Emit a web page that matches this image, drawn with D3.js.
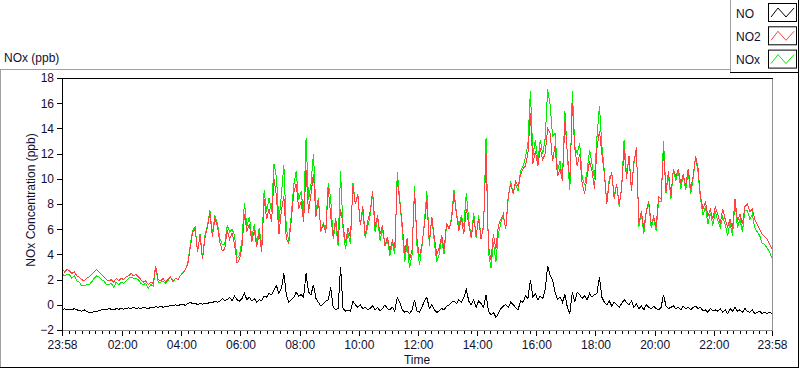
<!DOCTYPE html>
<html>
<head>
<meta charset="utf-8">
<script src="https://cdn.jsdelivr.net/npm/d3@7"></script>
<style>
  body { margin: 0; background: #fff; }
  svg { display: block; font-family: "Liberation Sans", Arial, sans-serif; }
  .lbl { fill: #101030; font-size: 12px; }
</style>
</head>
<body>
<svg id="chart" width="800" height="369"></svg>
<script>
// 5-minute readings starting 23:58
const seriesNames = ['NO', 'NO2', 'NOx'];
const seriesColors = ['#000000', '#ff4040', '#00ee00'];
const xTickLabels = ['23:58', '02:00', '04:00', '06:00', '08:00', '10:00', '12:00', '14:00', '16:00', '18:00', '20:00', '22:00', '23:58'];
const yTicks = [-2, 0, 2, 4, 6, 8, 10, 12, 14, 16, 18];

const no2 = [
  2.9, 2.6, 2.8, 2.7, 2.5, 2.6, 2.3, 2.2, 2.0, 1.9, 2.1, 2.2, 2.4, 2.6, 2.8, 2.6, 2.4, 2.2, 2.0, 1.9, 2.0, 1.8, 2.1, 1.9,
  2.1, 2.0, 2.2, 2.3, 2.5, 2.3, 2.4, 2.2, 2.0, 1.8, 1.9, 1.6, 1.8, 1.7, 3.1, 2.0, 1.9, 2.1, 1.8, 2.0, 2.2, 1.9, 2.1, 2.0,
  2.3, 2.5, 2.8, 3.2, 4.5, 5.8, 6.0, 4.2, 5.5, 3.6, 5.3, 6.2, 7.3, 5.4, 6.8, 6.3, 5.0, 4.3, 4.4, 5.9, 5.2, 5.7, 4.8, 3.3,
  3.6, 4.6, 7.2, 5.8, 6.4, 5.0, 5.9, 4.6, 5.7, 4.2, 8.4, 6.8, 7.6, 6.6, 10.0, 8.6, 5.6, 7.5, 8.6, 5.2, 4.9, 6.7, 8.9, 9.6,
  7.6, 8.2, 6.6, 10.7, 7.3, 8.8, 10.4, 7.0, 8.3, 5.9, 6.4, 5.7, 9.3, 7.0, 5.4, 6.9, 5.0, 7.6, 6.4, 4.9, 6.1, 5.3, 9.4, 8.0,
  8.8, 6.3, 7.8, 5.5, 6.6, 7.4, 9.0, 6.2, 7.1, 5.6, 6.3, 4.7, 5.4, 4.3, 5.1, 4.5, 9.9, 8.2, 6.4, 4.0, 5.3, 3.6, 4.4, 9.0, 5.2, 3.8,
  4.8, 6.3, 8.3, 5.0, 7.0, 5.4, 4.0, 4.5, 5.5, 4.4, 6.5, 6.0, 6.7, 8.8, 7.2, 5.9, 6.9, 5.6, 7.6, 6.4, 5.3, 6.9, 5.5, 6.8, 5.2, 6.3,
  12.0, 4.6, 3.6, 5.6, 4.4, 6.3, 6.8, 7.2, 6.0, 8.6, 9.6, 8.8, 9.8, 9.4, 10.3, 10.8, 11.0, 12.0, 15.2, 11.2, 12.2, 11.0, 12.4, 11.5,
  12.0, 14.0, 13.6, 11.4, 12.6, 10.2, 10.8, 9.8, 14.6, 12.0, 9.8, 16.0, 12.4, 11.0, 12.0, 9.6, 8.8, 10.2, 11.4, 10.6, 9.2, 12.4, 13.8,
  12.0, 10.4, 8.0, 9.8, 10.5, 8.4, 9.6, 8.0, 9.2, 12.4, 10.0, 11.8, 9.0, 11.4, 12.4, 6.5, 7.4, 6.0, 7.4, 8.2, 6.4, 7.0, 6.2, 8.6, 8.4,
  12.2, 9.0, 10.6, 8.6, 10.8, 10.2, 10.8, 9.6, 10.4, 9.4, 10.8, 9.2, 10.2, 11.8, 10.8, 8.6, 7.6, 8.2, 7.0, 7.6, 6.8, 7.8, 7.2, 6.4, 7.6,
  6.8, 6.2, 6.8, 6.0, 8.4, 6.6, 7.2, 6.4, 7.8, 8.0, 7.4, 7.6, 6.8, 6.4, 6.0, 5.6, 5.4, 5.2, 4.8, 4.4
];

const no = [
  -0.4, -0.3, -0.4, -0.35, -0.4, -0.3, -0.4, -0.45, -0.5, -0.4, -0.55, -0.6, -0.65, -0.5, -0.55, -0.45, -0.4, -0.35, -0.4, -0.3, -0.35, -0.4, -0.3, -0.35,
  -0.3, -0.35, -0.3, -0.25, -0.3, -0.2, -0.3, -0.25, -0.3, -0.2, -0.25, -0.3, -0.2, -0.25, -0.15, -0.2, -0.1, -0.2, -0.1, -0.15, -0.05, -0.1, 0, -0.05,
  0.0, 0.05, -0.05, 0.1, 0.2, 0.1, 0.15, 0.0, 0.1, 0.05, 0.15, 0.1, 0.2, 0.15, 0.3, 0.2, 0.3, 0.5, 0.35, 0.4, 0.6, 0.3, 0.7, 0.4,
  0.3, 0.5, 0.9, 0.4, 0.6, 0.3, 0.5, 0.2, 0.4, 0.3, 0.7, 0.6, 0.9, 0.8, 1.2, 1.5, 0.9, 1.3, 2.5, 0.8, 0.2, 0.4, 0.6, 1.0,
  0.7, 0.8, 0.6, 2.5, 1.0, 0.8, 1.6, 0.5, 0.2, -0.1, 0.1, 0.3, 0.4, 1.4, -0.2, -0.4, -0.3, 3.0, -0.3, -0.5, -0.4, -0.5, 0.3, 0.0,
  -0.2, 0.0, -0.3, -0.2, -0.4, -0.3, -0.1, -0.4, -0.2, -0.5, -0.3, 0.0, -0.3, -0.4, -0.2, -0.5, 0.6, 0.2, -0.4, -0.6, -0.5, -0.7, -0.4, 0.4, -0.5, -0.6,
  -0.2, 0.3, 0.6, -0.3, 0.0, -0.4, -0.6, -0.5, -0.3, -0.4, -0.1, 0.0, 0.2, 0.3, 0.1, 0.4, 0.2, 0.6, 1.2, 0.3, 0.0, 0.4, -0.2, 0.3, 0.1, -0.2,
  0.8, -0.5, -0.8, -0.6, -1.0, -0.7, -0.3, -0.1, 0.0, -0.2, 0.2, 0.0, -0.2, -0.4, 0.3, 0.2, 0.7, 0.5, 2.0, 0.6, 0.9, 0.4, 0.7, 0.5,
  1.2, 3.1, 2.3, 2.0, 1.0, 0.4, 0.6, 0.2, 0.8, -0.2, -0.7, 1.0, 0.2, 1.0, 0.8, 0.5, 0.7, 0.4, 0.9, 0.6, 0.8, 0.9, 2.2,
  0.6, 0.2, 0.0, 0.3, -0.1, 0.2, 0.0, -0.2, 0.1, 0.4, 0.2, 0.0, 0.3, -0.2, 0.1, -0.3, -0.1, -0.4, 0.0, -0.2, -0.3, -0.1, -0.3, -0.4, -0.2,
  0.8, -0.1, -0.3, -0.2, -0.1, -0.3, -0.2, -0.4, -0.1, -0.3, -0.2, -0.4, -0.2, -0.1, -0.3, -0.2, -0.5, -0.4, -0.6, -0.3, -0.5, -0.4, -0.5, -0.3, -0.6,
  -0.4, -0.7, -0.3, -0.5, -0.2, -0.5, -0.4, -0.6, -0.3, -0.5, -0.6, -0.4, -0.7, -0.6, -0.5, -0.7, -0.6, -0.7, -0.6, -0.7
];

const nox = [
  2.5, 2.3, 2.4, 2.4, 2.1, 2.3, 1.9, 1.8, 1.5, 1.5, 1.6, 1.6, 1.8, 2.1, 2.3, 2.2, 2.0, 1.9, 1.6, 1.6, 1.7, 1.4, 1.8, 1.6,
  1.8, 1.7, 1.9, 2.1, 2.2, 2.1, 2.1, 2.0, 1.7, 1.6, 1.7, 1.3, 1.6, 1.5, 3.0, 1.8, 1.8, 1.9, 1.7, 1.9, 2.2, 1.8, 2.1, 2.0,
  2.3, 2.6, 2.8, 3.3, 4.7, 5.9, 6.2, 4.2, 5.6, 3.7, 5.5, 6.3, 7.5, 5.6, 7.1, 6.5, 5.3, 4.8, 4.8, 6.3, 5.8, 6.0, 5.5, 3.7,
  3.9, 5.1, 8.1, 6.2, 7.0, 5.3, 6.4, 4.8, 6.1, 4.5, 9.1, 7.4, 8.5, 7.4, 11.2, 10.1, 6.5, 8.8, 11.1, 6.0, 5.1, 7.1, 9.5, 10.6,
  8.3, 9.0, 7.2, 13.2, 8.3, 9.6, 12.0, 7.5, 8.5, 5.8, 6.5, 6.0, 9.7, 8.4, 5.2, 6.5, 4.7, 10.6, 6.1, 4.4, 5.7, 4.8, 9.7, 8.0,
  8.6, 6.3, 7.5, 5.3, 6.2, 7.1, 8.9, 5.8, 6.9, 5.1, 6.0, 4.7, 5.1, 3.9, 4.9, 4.0, 10.5, 8.4, 6.0, 3.4, 4.8, 2.9, 4.0, 9.4, 4.7, 3.2,
  4.6, 6.6, 9.0, 4.7, 7.0, 5.0, 3.4, 4.0, 5.2, 4.0, 6.4, 6.0, 6.9, 9.1, 7.3, 6.3, 7.1, 6.2, 8.9, 6.7, 5.3, 7.3, 5.3, 7.1, 5.3, 6.1,
  13.2, 4.1, 2.9, 5.0, 3.4, 5.6, 6.5, 7.1, 6.0, 8.4, 9.8, 8.8, 9.6, 9.0, 10.6, 11.0, 11.7, 12.8, 17.0, 11.8, 13.1, 11.4, 13.1, 12.0,
  13.2, 17.1, 15.9, 13.4, 13.6, 10.6, 11.4, 10.0, 15.4, 11.8, 9.1, 17.0, 12.6, 12.0, 12.8, 10.1, 9.5, 10.6, 12.3, 11.2, 10.0, 13.3, 15.8,
  12.6, 10.6, 8.0, 10.1, 10.4, 8.6, 9.6, 7.8, 9.3, 13.1, 10.2, 11.8, 9.3, 11.2, 12.5, 6.2, 7.3, 5.6, 7.4, 8.0, 6.1, 6.9, 5.9, 8.2, 8.2,
  13.0, 8.9, 10.3, 8.4, 10.7, 9.9, 10.6, 9.2, 10.3, 9.1, 10.6, 8.8, 10.0, 11.7, 10.5, 8.4, 7.1, 7.8, 6.4, 7.3, 6.3, 7.4, 6.7, 6.1, 7.0,
  6.4, 5.5, 6.5, 5.5, 8.2, 6.1, 6.8, 5.8, 7.5, 7.5, 6.8, 7.2, 6.1, 5.8, 5.5, 4.9, 4.8, 4.5, 4.2, 3.7
];

const svg = d3.select('#chart');
const plot = { left: 62, right: 772, top: 78, bottom: 330 };

const start = new Date(2024, 0, 1, 23, 58);
const end = d3.timeMinute.offset(start, 1440);
const times = no2.map((d, i) => d3.timeMinute.offset(start, i * 5));

const x = d3.scaleTime().domain([start, end]).range([plot.left, plot.right]);
const y = d3.scaleLinear().domain([-2, 18]).range([plot.bottom, plot.top]);

// outer panel frame
svg.append('line').attr('x1', 0).attr('x2', 730).attr('y1', 69.5).attr('y2', 69.5).attr('stroke', '#a0a0a0');
svg.append('line').attr('x1', 0.5).attr('x2', 0.5).attr('y1', 69).attr('y2', 368).attr('stroke', '#a0a0a0');
svg.append('line').attr('x1', 0).attr('x2', 799).attr('y1', 367.5).attr('y2', 367.5).attr('stroke', '#000');
svg.append('line').attr('x1', 798.5).attr('x2', 798.5).attr('y1', 0).attr('y2', 368).attr('stroke', '#000');

// legend box
const legend = svg.append('g');
legend.append('line').attr('x1', 730.5).attr('x2', 730.5).attr('y1', 0).attr('y2', 72).attr('stroke', '#a0a0a0');
legend.append('line').attr('x1', 730).attr('x2', 799).attr('y1', 72.5).attr('y2', 72.5).attr('stroke', '#000');
const legendData = [
  { name: seriesNames[0], color: seriesColors[0] },
  { name: seriesNames[1], color: seriesColors[1] },
  { name: seriesNames[2], color: seriesColors[2] },
];
const items = legend.selectAll('g.item').data(legendData).join('g')
  .attr('class', 'item')
  .attr('transform', (d, i) => `translate(0,${4 + i * 23.3})`);
items.append('text').attr('class', 'lbl').attr('x', 736).attr('y', 13.5).text((d) => d.name);
items.append('rect').attr('x', 768.5).attr('y', -0.5).attr('width', 28).attr('height', 18)
  .attr('fill', '#fff').attr('stroke', '#000');
items.append('polyline')
  .attr('points', '771,13 778,4 786,13 794,4')
  .attr('fill', 'none').attr('stroke', (d) => d.color);

// labels
svg.append('text').attr('class', 'lbl').attr('x', 4).attr('y', 62).text('NOx (ppb)');
svg.append('text').attr('class', 'lbl').attr('text-anchor', 'middle')
  .attr('x', (plot.left + plot.right) / 2).attr('y', 364).text('Time');
svg.append('text').attr('class', 'lbl').attr('text-anchor', 'middle')
  .attr('transform', `translate(35,${(plot.top + plot.bottom) / 2 - 4}) rotate(-90)`)
  .text('NOx Concentration (ppb)');

// axes
const yAxis = svg.append('g').attr('transform', `translate(${plot.left},0)`)
  .call(d3.axisLeft(y).tickValues(yTicks).tickSize(5).tickPadding(3));
yAxis.select('.domain').remove();
yAxis.selectAll('text').attr('class', 'lbl').attr('font-size', null).attr('font-family', null);

const majorTicks = [start].concat(d3.timeHour.every(2).range(d3.timeMinute.offset(start, 3), end)).concat([end]);
const minorTicks = [];
for (let k = 0; k < majorTicks.length - 1; k++) {
  const a = +majorTicks[k], b = +majorTicks[k + 1];
  d3.range(1, 9).forEach((j) => minorTicks.push(new Date(a + (b - a) * j / 9)));
}
const xMinor = svg.append('g').attr('transform', `translate(0,${plot.bottom})`)
  .call(d3.axisBottom(x).tickValues(minorTicks).tickSize(4).tickFormat(''));
xMinor.select('.domain').remove();
const xAxis = svg.append('g').attr('transform', `translate(0,${plot.bottom})`)
  .call(d3.axisBottom(x).tickValues(majorTicks).tickSize(6).tickPadding(4)
    .tickFormat((d, i) => xTickLabels[i]));
xAxis.select('.domain').remove();
xAxis.selectAll('text').attr('class', 'lbl').attr('font-size', null).attr('font-family', null);
svg.selectAll('.tick line').attr('shape-rendering', 'crispEdges');

// plot area
svg.append('clipPath').attr('id', 'clip').append('rect')
  .attr('x', plot.left + 1).attr('y', plot.top + 1)
  .attr('width', plot.right - plot.left - 1).attr('height', plot.bottom - plot.top - 1);

const lineGen = (vals) => d3.line()
  .x((d, i) => x(times[i]))
  .y((d) => y(d))(vals);

const lines = svg.append('g').attr('clip-path', 'url(#clip)');
// draw NOx under NO2 so red shows on top
[[nox, seriesColors[2]], [no2, seriesColors[1]], [no, seriesColors[0]]].forEach(([vals, c]) => {
  lines.append('path').attr('d', lineGen(vals))
    .attr('fill', 'none').attr('stroke', c).attr('stroke-width', 1)
    .attr('shape-rendering', 'crispEdges');
});

// plot frame
svg.append('line').attr('x1', plot.left).attr('x2', plot.right + 1).attr('y1', plot.top + 0.5).attr('y2', plot.top + 0.5).attr('stroke', '#000');
svg.append('line').attr('x1', plot.left + 0.5).attr('x2', plot.left + 0.5).attr('y1', plot.top).attr('y2', plot.bottom + 1).attr('stroke', '#000');
svg.append('line').attr('x1', plot.left + 1).attr('x2', plot.right + 1).attr('y1', plot.bottom + 0.5).attr('y2', plot.bottom + 0.5).attr('stroke', '#909090');
svg.append('line').attr('x1', plot.right + 0.5).attr('x2', plot.right + 0.5).attr('y1', plot.top + 1).attr('y2', plot.bottom + 1).attr('stroke', '#909090');
</script>
</body>
</html>
